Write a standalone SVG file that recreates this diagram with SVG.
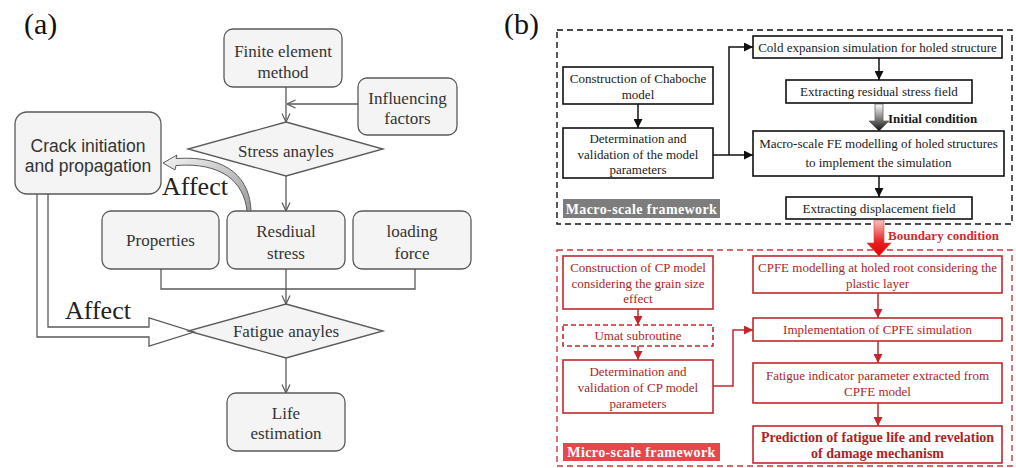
<svg xmlns="http://www.w3.org/2000/svg" width="1016" height="468" viewBox="0 0 1016 468">
<style>
.bg{fill:#ffffff}
.ga{fill:#f4f4f4;stroke:#5a5a5a;stroke-width:1.3}
.gl{fill:none;stroke:#5a5a5a;stroke-width:1.3}
.ts{font-family:"Liberation Serif","Times New Roman",serif;fill:#333333;font-size:17px;text-anchor:middle}
.tsa{font-family:"Liberation Sans",Arial,sans-serif;fill:#333333;font-size:17.5px;text-anchor:middle}
.lab{font-family:"Liberation Serif","Times New Roman",serif;fill:#111111;font-size:30px}
.aff{font-family:"Liberation Serif","Times New Roman",serif;fill:#222222;font-size:26px}
.bb{fill:#ffffff;stroke:#111111;stroke-width:1.6}
.bl{fill:none;stroke:#111111;stroke-width:1.5}
.tb{font-family:"Liberation Serif","Times New Roman",serif;fill:#1a1a1a;font-size:13px;text-anchor:middle}
.rb{fill:#ffffff;stroke:#c3272c;stroke-width:1.6}
.rl{fill:none;stroke:#c3272c;stroke-width:1.5}
.tr{font-family:"Liberation Serif","Times New Roman",serif;fill:#b01e24;font-size:13px;text-anchor:middle}
.bold{font-weight:bold}
</style>
<defs>
<marker id="chev" markerUnits="userSpaceOnUse" markerWidth="10" markerHeight="10" viewBox="0 0 10 10" refX="9.5" refY="5" orient="auto">
<path d="M1,1 L9.5,5 L1,9" fill="none" stroke="#5a5a5a" stroke-width="1.2"/>
</marker>
<marker id="ab" markerUnits="userSpaceOnUse" markerWidth="9" markerHeight="9" viewBox="0 0 10 10" refX="10" refY="5" orient="auto">
<path d="M0,0 L10,5 L0,10 z" fill="#111111"/>
</marker>
<marker id="ar" markerUnits="userSpaceOnUse" markerWidth="9" markerHeight="9" viewBox="0 0 10 10" refX="10" refY="5" orient="auto">
<path d="M0,0 L10,5 L0,10 z" fill="#c3272c"/>
</marker>
<linearGradient id="gInit" x1="0" y1="0" x2="0" y2="1">
<stop offset="0" stop-color="#ffffff"/>
<stop offset="1" stop-color="#111111"/>
</linearGradient>
<linearGradient id="gBound" x1="0" y1="0" x2="0" y2="1">
<stop offset="0" stop-color="#f7c4c4"/>
<stop offset="0.6" stop-color="#e82020"/>
<stop offset="1" stop-color="#e00000"/>
</linearGradient>
<linearGradient id="gCurve" x1="0" y1="0" x2="1" y2="1">
<stop offset="0" stop-color="#f4f4f4"/>
<stop offset="1" stop-color="#9a9a9a"/>
</linearGradient>
</defs>
<rect class="bg" x="0" y="0" width="1016" height="468"/>

<!-- Panel (a) -->
<text class="lab" x="24" y="34">(a)</text>

<g id="a-connectors">
<line class="gl" x1="286" y1="87" x2="286" y2="122" marker-end="url(#chev)"/>
<line class="gl" x1="358" y1="104" x2="287" y2="104" marker-end="url(#chev)"/>
<line class="gl" x1="286" y1="176" x2="286" y2="211" marker-end="url(#chev)"/>
<polyline class="gl" points="161,269 161,289 415,289 415,269"/>
<line class="gl" x1="286" y1="269" x2="286" y2="304" marker-end="url(#chev)"/>
<line class="gl" x1="286" y1="358" x2="286" y2="393" marker-end="url(#chev)"/>
</g>

<g id="a-finite"><rect class="ga" x="224" y="29" width="118" height="58" rx="9"/>
<text class="ts" x="283" y="57">Finite element</text><text class="ts" x="283" y="78">method</text></g>
<g id="a-influencing"><rect class="ga" x="358" y="78" width="99" height="57" rx="9"/>
<text class="ts" x="407.5" y="104">Influencing</text><text class="ts" x="407.5" y="124">factors</text></g>
<g id="a-stress"><polygon class="ga" points="286,122 383,149 286,176 188,149"/>
<text class="ts" x="286" y="157">Stress anayles</text></g>
<g id="a-crack"><rect class="ga" x="15" y="112" width="146" height="82" rx="12"/>
<text class="tsa" x="88" y="152">Crack initiation</text><text class="tsa" x="88" y="172">and propagation</text></g>
<g id="a-properties"><rect class="ga" x="102" y="211" width="117" height="58" rx="9"/>
<text class="ts" x="160.5" y="246">Properties</text></g>
<g id="a-residual"><rect class="ga" x="227" y="211" width="118" height="58" rx="9"/>
<text class="ts" x="286" y="237">Resdiual</text><text class="ts" x="286" y="259">stress</text></g>
<g id="a-loading"><rect class="ga" x="353" y="211" width="118" height="58" rx="9"/>
<text class="ts" x="412" y="237">loading</text><text class="ts" x="412" y="259">force</text></g>
<g id="a-fatigue"><polygon class="ga" points="286,304 383,331 286,358 188,331"/>
<text class="ts" x="286" y="337">Fatigue anayles</text></g>
<g id="a-life"><rect class="ga" x="227" y="393" width="118" height="58" rx="9"/>
<text class="ts" x="286" y="419">Life</text><text class="ts" x="286" y="439">estimation</text></g>

<g id="a-affect-arrows">
<path d="M251,211 C250,180 230,155 176,158.5 L177,155 L163,163 L175,170 L176,165.5 C222,162 244,182 247,211 Z" fill="url(#gCurve)" stroke="#5a5a5a" stroke-width="1"/>
<path d="M37,194 L37,337 L149,337 L149,346 L194,332 L149,318 L149,327 L48,327 L48,194" fill="none" stroke="#5a5a5a" stroke-width="1.3"/>
<text class="aff" x="162" y="195">Affect</text>
<text class="aff" x="65" y="319">Affect</text>
</g>

<!-- Panel (b) -->
<text class="lab" x="504" y="34">(b)</text>

<rect x="557" y="30" width="455" height="194" fill="none" stroke="#111111" stroke-width="1.4" stroke-dasharray="6,4"/>
<rect x="557" y="250" width="455" height="216" fill="none" stroke="#cc3a3e" stroke-width="1.4" stroke-dasharray="6,4"/>

<g id="b-connectors">
<line class="bl" x1="638" y1="104" x2="638" y2="128" marker-end="url(#ab)"/>
<line class="bl" x1="713" y1="155" x2="753" y2="155" marker-end="url(#ab)"/>
<polyline class="bl" points="729,155 729,47 753,47" marker-end="url(#ab)"/>
<line class="bl" x1="879" y1="58" x2="879" y2="80" marker-end="url(#ab)"/>
<line class="bl" x1="879" y1="176" x2="879" y2="197" marker-end="url(#ab)"/>
<path d="M875,104 L883,104 L883,121 L889,121 L879,131 L869,121 L875,121 Z" fill="url(#gInit)" stroke="#666666" stroke-width="0.8"/>
<path d="M874,220 L884,220 L884,243 L891,243 L879,256 L867,243 L874,243 Z" fill="url(#gBound)" stroke="#e04040" stroke-width="0.6"/>
<line class="rl" x1="638" y1="309" x2="638" y2="325" marker-end="url(#ar)"/>
<line class="rl" x1="638" y1="346" x2="638" y2="360" marker-end="url(#ar)"/>
<polyline class="rl" points="713,386 733,386 733,330 753,330" marker-end="url(#ar)"/>
<line class="rl" x1="878" y1="293" x2="878" y2="318" marker-end="url(#ar)"/>
<line class="rl" x1="878" y1="341" x2="878" y2="363" marker-end="url(#ar)"/>
<line class="rl" x1="878" y1="403" x2="878" y2="426" marker-end="url(#ar)"/>
</g>

<text class="tb bold" x="888" y="123" style="text-anchor:start">Initial condition</text>
<text class="tb bold" x="888" y="240" style="text-anchor:start;fill:#d42a2a">Boundary condition</text>

<g id="b-cold"><rect class="bb" x="753" y="36" width="249" height="22"/>
<text class="tb" x="877.5" y="51.5">Cold expansion simulation for holed structure</text></g>
<g id="b-chaboche"><rect class="bb" x="563" y="67" width="150" height="37"/>
<text class="tb" x="638" y="82.5">Construction of Chaboche</text><text class="tb" x="638" y="99">model</text></g>
<g id="b-residual"><rect class="bb" x="786" y="80" width="186" height="23"/>
<text class="tb" x="879" y="96">Extracting residual stress field</text></g>
<g id="b-determination"><rect class="bb" x="563" y="128" width="150" height="50"/>
<text class="tb" x="638" y="142.5">Determination and</text><text class="tb" x="638" y="158.5">validation of the model</text><text class="tb" x="638" y="174">parameters</text></g>
<g id="b-macrofe"><rect class="bb" x="753" y="131" width="251" height="45"/>
<text class="tb" x="878.5" y="148">Macro-scale FE modelling of holed structures</text><text class="tb" x="878.5" y="167">to implement the simulation</text></g>
<g id="b-displacement"><rect class="bb" x="786" y="197" width="186" height="22"/>
<text class="tb" x="879" y="212.5">Extracting displacement field</text></g>
<g id="b-macro-label"><rect x="563" y="199" width="157" height="19" fill="#7d7d7d"/>
<text class="tb bold" x="641.5" y="213.5" style="fill:#ffffff;font-size:14px;letter-spacing:0.4px">Macro-scale framework</text></g>

<g id="b-cp"><rect class="rb" x="563" y="256" width="150" height="53"/>
<text class="tr" x="638" y="272">Construction of CP model</text><text class="tr" x="638" y="287.5">considering the grain size</text><text class="tr" x="638" y="303">effect</text></g>
<g id="b-cpfe"><rect class="rb" x="753" y="256" width="249" height="37"/>
<text class="tr" x="877.5" y="272">CPFE modelling at holed root considering the</text><text class="tr" x="877.5" y="287.5">plastic layer</text></g>
<g id="b-umat"><rect x="563" y="325" width="150" height="21" fill="#ffffff" stroke="#c3272c" stroke-width="1.6" stroke-dasharray="5,3"/>
<text class="tr" x="638" y="340">Umat subroutine</text></g>
<g id="b-implementation"><rect class="rb" x="753" y="318" width="249" height="23"/>
<text class="tr" x="877.5" y="334">Implementation of CPFE simulation</text></g>
<g id="b-detcp"><rect class="rb" x="563" y="360" width="150" height="53"/>
<text class="tr" x="638" y="376">Determination and</text><text class="tr" x="638" y="392">validation of CP model</text><text class="tr" x="638" y="407.5">parameters</text></g>
<g id="b-fip"><rect class="rb" x="753" y="363" width="249" height="40"/>
<text class="tr" x="877.5" y="380">Fatigue indicator parameter extracted from</text><text class="tr" x="877.5" y="396">CPFE model</text></g>
<g id="b-prediction"><rect class="rb" x="753" y="426" width="249" height="37"/>
<text class="tr bold" x="877.5" y="442" style="font-size:14px">Prediction of fatigue life and revelation</text><text class="tr bold" x="877.5" y="458" style="font-size:14px">of damage mechanism</text></g>
<g id="b-micro-label"><rect x="563" y="443" width="157" height="18" fill="#e6474b"/>
<text class="tb bold" x="641.5" y="457" style="fill:#ffffff;font-size:14px;letter-spacing:0.4px">Micro-scale framework</text></g>
</svg>
